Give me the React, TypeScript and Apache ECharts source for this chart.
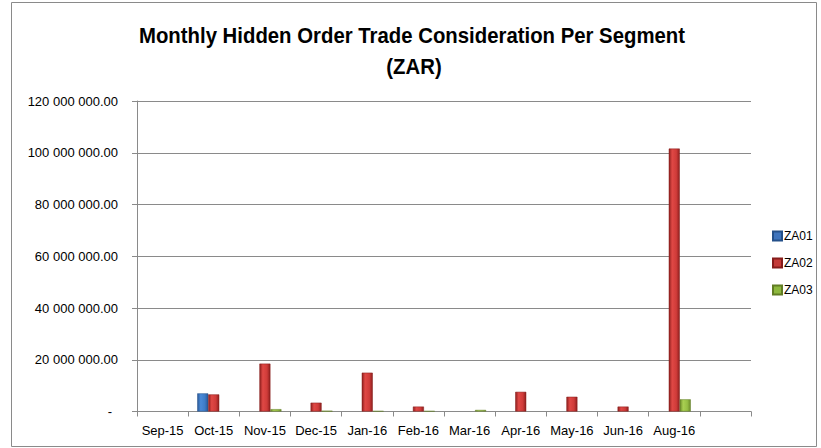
import React, { useEffect, useRef } from "react";
import * as echarts from "echarts";

const categories = ["Sep-15", "Oct-15", "Nov-15", "Dec-15", "Jan-16", "Feb-16", "Mar-16", "Apr-16", "May-16", "Jun-16", "Aug-16", ""];
const za01 = [null, 7.0e6, null, null, null, null, null, null, null, null, null, null];
const za02 = [null, 6.6e6, 18.5e6, 3.4e6, 15.0e6, 1.9e6, null, 7.6e6, 5.7e6, 1.9e6, 101.6e6, null];
const za03 = [null, null, 0.9e6, 0.3e6, 0.2e6, 0.2e6, 0.6e6, null, null, null, 4.7e6, null];
const seriesNames = ["ZA01", "ZA02", "ZA03"];
const titleLines = ["Monthly Hidden Order Trade Consideration Per Segment", "(ZAR)"];

function grad(edge: string, mid: string, mid2: string) {
  return new echarts.graphic.LinearGradient(0, 0, 1, 0, [
    { offset: 0, color: edge },
    { offset: 0.3, color: mid },
    { offset: 0.7, color: mid2 },
    { offset: 1, color: edge },
  ]);
}

function fmt(v: number) {
  if (v === 0) return "{z|-}";
  const s = v.toFixed(2);
  const [i, d] = s.split(".");
  return i.replace(/\B(?=(\d{3})+(?!\d))/g, " ") + "." + d;
}

export default function App() {
  const ref = useRef<HTMLDivElement>(null);
  useEffect(() => {
    const chart = echarts.init(ref.current!, undefined, { renderer: "svg" });
    const font = "Liberation Sans";
    const mk = (name: string, data: (number | null)[], color: any, border: string) => ({
      name,
      type: "bar",
      data,
      barWidth: 11,
      barGap: "0%",
      itemStyle: { color, borderColor: border, borderWidth: 0.5 },
    });
    const titleStyle = (text: string) => ({
      text,
      fontFamily: font,
      fontWeight: "bold",
      fontSize: 22,
      fill: "#000",
      textAlign: "center",
      textVerticalAlign: "middle",
    });
    chart.setOption({
      animation: false,
      backgroundColor: "#ffffff",
      textStyle: { fontFamily: font },
      grid: { left: 137, right: 70, top: 101, bottom: 36.5, containLabel: false },
      legend: {
        orient: "vertical",
        left: 767,
        top: 225,
        itemWidth: 9,
        itemHeight: 9,
        itemGap: 15,
        icon: "rect",
        textStyle: { fontFamily: font, fontSize: 12, color: "#000", padding: [0, 0, 0, -3] },
        data: [
          { name: "ZA01", itemStyle: { color: "#3E74BD" } },
          { name: "ZA02", itemStyle: { color: "#C43A38" } },
          { name: "ZA03", itemStyle: { color: "#8DB83E" } },
        ],
      },
      xAxis: {
        type: "category",
        data: categories,
        boundaryGap: true,
        axisLine: { lineStyle: { color: "#8a8a8a", width: 1 } },
        axisTick: { show: true, alignWithLabel: false, length: 5, lineStyle: { color: "#8a8a8a" } },
        axisLabel: { color: "#000", fontSize: 13, fontFamily: font, margin: 12, interval: 0 },
      },
      yAxis: {
        type: "value",
        min: 0,
        max: 120000000,
        interval: 20000000,
        axisLine: { show: true, lineStyle: { color: "#8a8a8a", width: 1 } },
        axisTick: { show: true, length: 5, lineStyle: { color: "#8a8a8a" } },
        splitLine: { lineStyle: { color: "#8a8a8a", width: 1 } },
        axisLabel: {
          color: "#000",
          fontSize: 13,
          fontFamily: font,
          margin: 19,
          formatter: fmt,
          rich: { z: { fontSize: 13, fontFamily: font, color: "#000", padding: [0, 6, 0, 0] } },
        },
      },
      series: [
        mk(seriesNames[0], za01, grad("#2A5896", "#4A8AD8", "#3E7CC8"), "#24508A"),
        mk(seriesNames[1], za02, grad("#8E1F1E", "#E04845", "#CF3B39"), "#861C1B"),
        mk(seriesNames[2], za03, grad("#6C8A2A", "#A9D052", "#96BE44"), "#617D24"),
      ],
      graphic: [
        {
          type: "rect",
          silent: true,
          shape: { x: 11.5, y: 2.5, width: 805, height: 444 },
          style: { fill: "none", stroke: "#8a8a8a", lineWidth: 1 },
        },
        { type: "text", x: 412, y: 35, scaleX: 0.925, style: titleStyle(titleLines[0]) },
        { type: "text", x: 414, y: 66, scaleX: 0.925, style: titleStyle(titleLines[1]) },
      ],
    });
    return () => chart.dispose();
  }, []);
  return (
    <div
      ref={ref}
      style={{ position: "absolute", left: 0, top: 0, width: 821, height: 448, background: "#fff" }}
    />
  );
}
